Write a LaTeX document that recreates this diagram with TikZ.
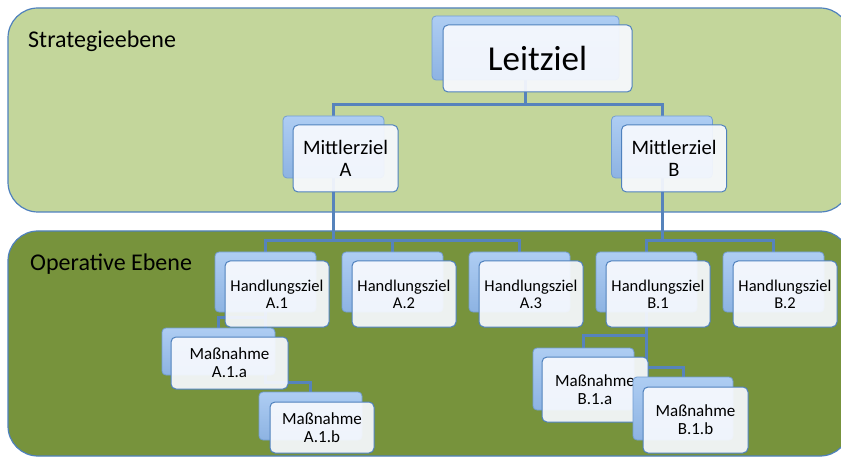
\documentclass[tikz,border=0pt]{standalone}
\usepackage{fontspec}
\setmainfont{Carlito}
\usetikzlibrary{positioning}
\definecolor{bandHell}{HTML}{C3D69B}
\definecolor{bandDunkel}{HTML}{77933C}
\definecolor{randBlau}{HTML}{4F81BD}
\definecolor{linieBlau}{HTML}{5683BC}
\definecolor{hintenOben}{HTML}{AECDF3}
\definecolor{hintenUnten}{HTML}{8DB3E2}
\definecolor{hintenRand}{HTML}{729DD2}
\definecolor{vorneFill}{HTML}{F7F9FE}
\pgfdeclarelayer{background}
\pgfsetlayers{background,main}

\begin{document}
\begin{tikzpicture}[x=1pt, y=-1pt,
    hinten/.style={draw=hintenRand, line width=0.8pt, rounded corners=4pt,
                   top color=hintenOben, bottom color=hintenUnten, inner sep=0pt},
    vorne/.style={draw=randBlau, line width=1pt, rounded corners=5pt, fill=vorneFill,
                  fill opacity=0.93, text opacity=1, align=center, inner sep=0pt},
    linie/.style={draw=linieBlau, line width=3pt},
    ebene/.style={font=\fontsize{24}{28}\selectfont, anchor=base west, inner sep=0pt},
    mzh/.style={minimum width=101pt, minimum height=62pt},
    mz/.style={minimum width=105pt, minimum height=67pt, font=\fontsize{20.5}{22}\selectfont},
    hzh/.style={minimum width=101pt, minimum height=60pt},
    hz/.style={minimum width=104pt, minimum height=66pt, font=\fontsize{16.5}{17}\selectfont},
    mn/.style={font=\fontsize{17}{18}\selectfont}]
  \useasboundingbox (0,0) rectangle (841,457);
  \begin{pgfonlayer}{background}
    \fill[white] (0,0) rectangle (841,457);
    \draw[randBlau, line width=1.2pt, fill=bandHell, rounded corners=30pt] (8,8) rectangle (850,212);
    \draw[randBlau, line width=1.2pt, fill=bandDunkel, rounded corners=30pt] (8,231) rectangle (850,456);
  \end{pgfonlayer}
  \node[ebene] (strat) at (28,47.5) {Strategieebene};
  \node[ebene] (oper) at (30,270) {Operative Ebene};

  % Leitziel
  \node[hinten, minimum width=187pt, minimum height=64pt] (lzh) at (525.5,48) {};
  \node[vorne, minimum width=189pt, minimum height=67pt,
        font=\fontsize{35}{40}\selectfont] (lz) at (537.5,58.5) {Leitziel};

  % Mittlerziele
  \node[hinten, mzh] (mzAh) at (333.5,147) {};
  \node[vorne, mz] (mzA) at (345.5,158.5) {Mittlerziel\\A};
  \node[hinten, mzh] (mzBh) at (662,147) {};
  \node[vorne, mz] (mzB) at (674,158.5) {Mittlerziel\\B};

  % Handlungsziele
  \node[hinten, hzh] (hzA1h) at (265.5,282) {};
  \node[vorne, hz] (hzA1) at (277,294) {Handlungsziel\\A.1};
  \node[hinten, hzh] (hzA2h) at (392.5,282) {};
  \node[vorne, hz] (hzA2) at (404,294) {Handlungsziel\\A.2};
  \node[hinten, hzh] (hzA3h) at (519.5,282) {};
  \node[vorne, hz] (hzA3) at (531,294) {Handlungsziel\\A.3};
  \node[hinten, hzh] (hzB1h) at (646.5,282) {};
  \node[vorne, hz] (hzB1) at (658,294) {Handlungsziel\\B.1};
  \node[hinten, hzh] (hzB2h) at (773.5,282) {};
  \node[vorne, hz] (hzB2) at (785,294) {Handlungsziel\\B.2};

  % Massnahmen
  \node[hinten, minimum width=113pt, minimum height=47pt] (mnAah) at (218.5,351.5) {};
  \node[vorne, mn, minimum width=117pt, minimum height=52pt] (mnAa) at (229.5,363) {Maßnahme\\A.1.a};
  \node[hinten, minimum width=103pt, minimum height=48pt] (mnAbh) at (310.5,416) {};
  \node[vorne, mn, minimum width=104pt, minimum height=51pt] (mnAb) at (322,427.5) {Maßnahme\\A.1.b};
  \node[hinten, minimum width=101pt, minimum height=62pt] (mnBah) at (583.5,379) {};
  \node[vorne, mn, minimum width=106pt, minimum height=65pt] (mnBa) at (595,389.5) {Maßnahme\\B.1.a};
  \node[hinten, minimum width=100pt, minimum height=63pt] (mnBbh) at (683,408.5) {};
  \node[vorne, mn, minimum width=105pt, minimum height=66pt] (mnBb) at (695.5,420) {Maßnahme\\B.1.b};

  % Verbindungen
  \coordinate (busL) at (0,105);
  \coordinate (busH) at (0,241);
  \coordinate (busAa) at (0,317);
  \coordinate (busAb) at (0,382);
  \coordinate (busBa) at (0,335);
  \coordinate (busBb) at (0,367);
  \begin{pgfonlayer}{background}
    \draw[linie] (lzh.south) |- (mzAh.north |- busL) -- (mzAh.north);
    \draw[linie] (lzh.south) |- (mzBh.north |- busL) -- (mzBh.north);
    \draw[linie] (mzAh.south) |- (hzA1h.north |- busH) -- (hzA1h.north);
    \draw[linie] (mzAh.south) |- (hzA2h.north |- busH) -- (hzA2h.north);
    \draw[linie] (mzAh.south) |- (hzA3h.north |- busH) -- (hzA3h.north);
    \draw[linie] (mzBh.south) |- (hzB1h.north |- busH) -- (hzB1h.north);
    \draw[linie] (mzBh.south) |- (hzB2h.north |- busH) -- (hzB2h.north);
    \draw[linie] (hzA1h.south) |- (mnAah.north |- busAa) -- (mnAah.north);
    \draw[linie] (hzA1h.south) |- (mnAbh.north |- busAb) -- (mnAbh.north);
    \draw[linie] (hzB1h.south) |- (mnBah.north |- busBa) -- (mnBah.north);
    \draw[linie] (hzB1h.south) |- (mnBbh.north |- busBb) -- (mnBbh.north);
  \end{pgfonlayer}
\end{tikzpicture}
\end{document}
